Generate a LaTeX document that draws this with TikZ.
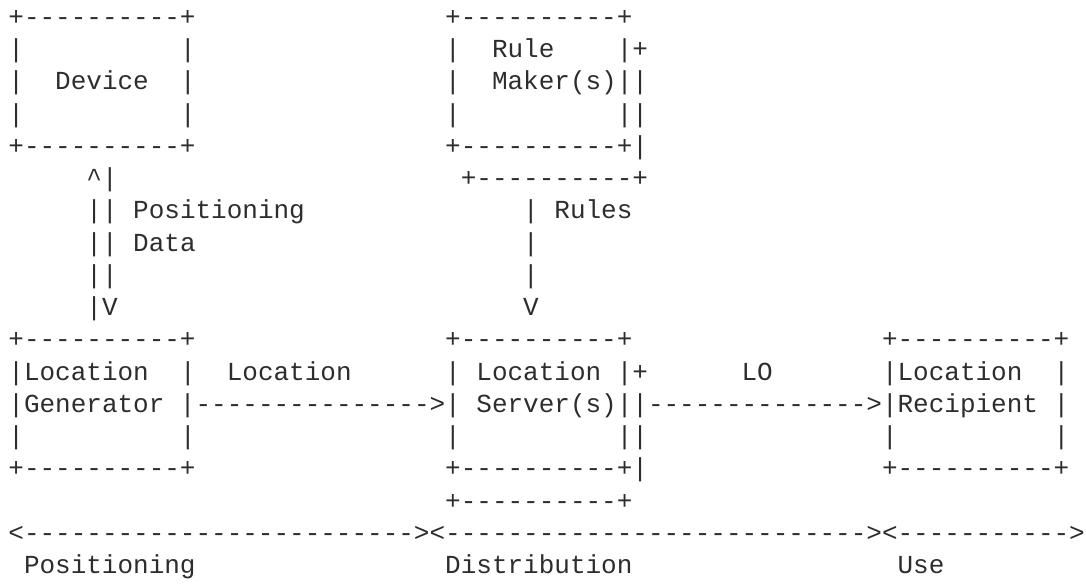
\documentclass[tikz,border=0pt]{standalone}
\usepackage{fontspec}
\setmonofont{Liberation Mono}
\definecolor{txt}{RGB}{45,45,45}
\tikzset{
  asc/.style={anchor=base west, inner sep=0pt, outer sep=0pt, text=txt,
    font=\ttfamily\fontsize{19.5}{24}\selectfont}
}
\newcommand\asc[4]{\node[asc] (#1) at ({8.4+#2*15.6},{25.5+#3*32.25}) {#4};}
\newcommand\rep[2]{\foreach\ri in {1,...,#1}{#2}}
\begin{document}
\begin{tikzpicture}[x=0.75pt,y=-0.75pt]
\useasboundingbox (0,0) rectangle (1086,584);
% line 0
\asc{a0}{0}{0}{+\rep{10}{-}+}
\asc{b0}{28}{0}{+\rep{10}{-}+}
% line 1
\asc{a1l}{0}{1}{|}
\asc{a1r}{11}{1}{|}
\asc{b1l}{28}{1}{|}
\asc{b1t}{31}{1}{Rule}
\asc{b1r}{39}{1}{|+}
% line 2
\asc{a2l}{0}{2}{|}
\asc{a2t}{3}{2}{Device}
\asc{a2r}{11}{2}{|}
\asc{b2l}{28}{2}{|}
\asc{b2t}{31}{2}{Maker(s)||}
% line 3
\asc{a3l}{0}{3}{|}
\asc{a3r}{11}{3}{|}
\asc{b3l}{28}{3}{|}
\asc{b3r}{39}{3}{||}
% line 4
\asc{a4}{0}{4}{+\rep{10}{-}+}
\asc{b4}{28}{4}{+\rep{10}{-}+|}
% line 5
\asc{p5}{5}{5}{\symbol{94}|}
\asc{b5}{29}{5}{+\rep{10}{-}+}
% line 6
\asc{p6}{5}{6}{|| Positioning}
\asc{r6}{33}{6}{| Rules}
% line 7
\asc{p7}{5}{7}{|| Data}
\asc{r7}{33}{7}{|}
% line 8
\asc{p8}{5}{8}{||}
\asc{r8}{33}{8}{|}
% line 9
\asc{p9}{5}{9}{|V}
\asc{r9}{33}{9}{V}
% line 10
\asc{c10}{0}{10}{+\rep{10}{-}+}
\asc{d10}{28}{10}{+\rep{10}{-}+}
\asc{e10}{56}{10}{+\rep{10}{-}+}
% line 11
\asc{c11l}{0}{11}{|Location}
\asc{c11r}{11}{11}{|}
\asc{f11}{14}{11}{Location}
\asc{d11}{28}{11}{| Location |+}
\asc{g11}{47}{11}{LO}
\asc{e11l}{56}{11}{|Location}
\asc{e11r}{67}{11}{|}
% line 12
\asc{c12}{0}{12}{|Generator |}
\asc{h12}{12}{12}{\rep{15}{-}>}
\asc{d12}{28}{12}{| Server(s)||}
\asc{k12}{41}{12}{\rep{14}{-}>}
\asc{e12}{56}{12}{|Recipient |}
% line 13
\asc{c13l}{0}{13}{|}
\asc{c13r}{11}{13}{|}
\asc{d13l}{28}{13}{|}
\asc{d13r}{39}{13}{||}
\asc{e13l}{56}{13}{|}
\asc{e13r}{67}{13}{|}
% line 14
\asc{c14}{0}{14}{+\rep{10}{-}+}
\asc{d14}{28}{14}{+\rep{10}{-}+|}
\asc{e14}{56}{14}{+\rep{10}{-}+}
% line 15
\asc{d15}{28}{15}{+\rep{10}{-}+}
% line 16
\asc{s1}{0}{16}{<\rep{25}{-}>}
\asc{s2}{27}{16}{<\rep{27}{-}>}
\asc{s3}{56}{16}{<\rep{11}{-}>}
% line 17
\asc{t1}{1}{17}{Positioning}
\asc{t2}{28}{17}{Distribution}
\asc{t3}{57}{17}{Use}
\end{tikzpicture}
\end{document}
